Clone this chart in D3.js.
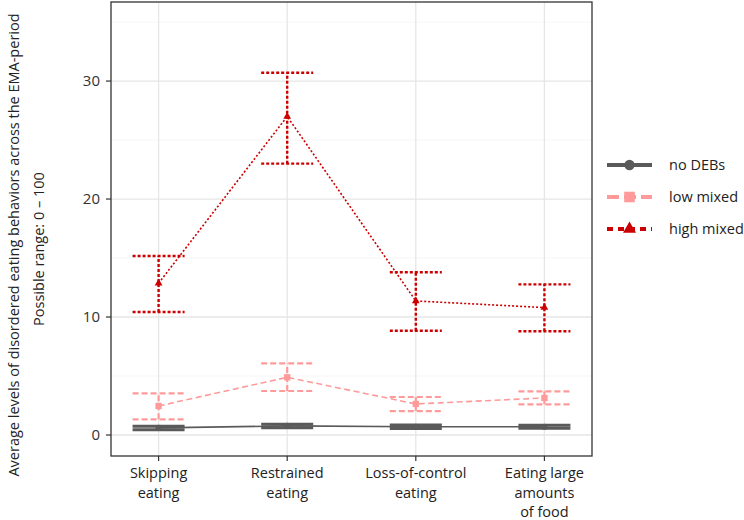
<!DOCTYPE html>
<html>
<head>
<meta charset="utf-8">
<script src="https://cdn.jsdelivr.net/npm/d3@7"></script>
<style>
  body { margin: 0; background: #fff; }
  text { font-family: "Open Sans", sans-serif; }
</style>
</head>
<body>
<svg width="744" height="520"></svg>
<script>
var categories = ["Skipping eating", "Restrained eating", "Loss-of-control eating", "Eating large amounts of food"];
var categoryLines = [["Skipping", "eating"], ["Restrained", "eating"], ["Loss-of-control", "eating"], ["Eating large", "amounts", "of food"]];
var groups = ["no DEBs", "low mixed", "high mixed"];

var noDebsMean = [0.6, 0.77, 0.7, 0.7];
var noDebsLow = [0.45, 0.62, 0.56, 0.58];
var noDebsHigh = [0.75, 0.92, 0.84, 0.82];

var lowMixedMean = [2.46, 4.89, 2.63, 3.14];
var lowMixedLow = [1.33, 3.73, 2.03, 2.6];
var lowMixedHigh = [3.53, 6.07, 3.22, 3.7];

var highMixedMean = [12.86, 27.0, 11.36, 10.8];
var highMixedLow = [10.42, 23.0, 8.84, 8.79];
var highMixedHigh = [15.17, 30.7, 13.8, 12.77];

var yTicks = [0, 10, 20, 30];
var yMinor = [5, 15, 25, 35];

var svg = d3.select("svg");
var panelLeft = 111, panelRight = 592, panelTop = 2, panelBottom = 456;

var x = d3.scalePoint()
    .domain(categories)
    .range([panelLeft, panelRight])
    .padding(0.37);

var y = d3.scaleLinear()
    .domain([-1.78, 36.7])
    .range([panelBottom, panelTop]);

var series = [
  {name: groups[0], mean: noDebsMean, lo: noDebsLow, hi: noDebsHigh, color: "#5a5a5a", dash: null, barDash: null, bar: 3, line: 1.6, shape: d3.symbolCircle, size: 30},
  {name: groups[1], mean: lowMixedMean, lo: lowMixedLow, hi: lowMixedHigh, color: "#ff9a9a", dash: "6,3.5", barDash: "6,3", bar: 2.2, line: 1.6, shape: d3.symbolSquare, size: 40},
  {name: groups[2], mean: highMixedMean, lo: highMixedLow, hi: highMixedHigh, color: "#cc0000", dash: "2,2", barDash: "3,2", bar: 2.4, line: 1.6, shape: d3.symbolTriangle, size: 26}
];

// grid
var g = svg.append("g");
g.selectAll(".minor").data(yMinor).enter().append("line")
    .attr("x1", panelLeft).attr("x2", panelRight)
    .attr("y1", d => y(d)).attr("y2", d => y(d))
    .attr("stroke", "#f2f2f2").attr("stroke-width", 0.8);
g.selectAll(".major").data(yTicks).enter().append("line")
    .attr("x1", panelLeft).attr("x2", panelRight)
    .attr("y1", d => y(d)).attr("y2", d => y(d))
    .attr("stroke", "#e6e6e6").attr("stroke-width", 1.3);
g.selectAll(".vgrid").data(categories).enter().append("line")
    .attr("x1", d => x(d)).attr("x2", d => x(d))
    .attr("y1", panelTop).attr("y2", panelBottom)
    .attr("stroke", "#e6e6e6").attr("stroke-width", 1.3);

var halfW = 26;

series.forEach(function(s) {
  var pts = categories.map((c, i) => ({c: c, m: s.mean[i], lo: s.lo[i], hi: s.hi[i]}));
  var sg = svg.append("g");

  sg.append("path")
      .datum(pts)
      .attr("fill", "none")
      .attr("stroke", s.color)
      .attr("stroke-width", s.line)
      .attr("stroke-dasharray", s.dash)
      .attr("d", d3.line().x(d => x(d.c)).y(d => y(d.m)));

  var eb = sg.selectAll(".eb").data(pts).enter().append("g")
      .attr("stroke", s.color)
      .attr("stroke-width", s.bar)
      .attr("stroke-dasharray", s.barDash);
  eb.append("line")
      .attr("x1", d => x(d.c)).attr("x2", d => x(d.c))
      .attr("y1", d => y(d.lo)).attr("y2", d => y(d.hi));
  eb.append("line")
      .attr("x1", d => x(d.c) - halfW).attr("x2", d => x(d.c) + halfW)
      .attr("y1", d => y(d.lo)).attr("y2", d => y(d.lo));
  eb.append("line")
      .attr("x1", d => x(d.c) - halfW).attr("x2", d => x(d.c) + halfW)
      .attr("y1", d => y(d.hi)).attr("y2", d => y(d.hi));

  sg.selectAll(".pt").data(pts).enter().append("path")
      .attr("transform", d => "translate(" + x(d.c) + "," + y(d.m) + ")")
      .attr("d", d3.symbol().type(s.shape).size(s.size))
      .attr("fill", s.color);
});

// panel border
svg.append("rect")
    .attr("x", panelLeft).attr("y", panelTop)
    .attr("width", panelRight - panelLeft).attr("height", panelBottom - panelTop)
    .attr("fill", "none")
    .attr("stroke", "#333").attr("stroke-width", 1.3);

// y axis
var ya = svg.append("g");
ya.selectAll("line").data(yTicks).enter().append("line")
    .attr("x1", panelLeft - 5).attr("x2", panelLeft)
    .attr("y1", d => y(d)).attr("y2", d => y(d))
    .attr("stroke", "#333").attr("stroke-width", 1.2);
ya.selectAll("text").data(yTicks).enter().append("text")
    .attr("x", panelLeft - 11).attr("y", d => y(d))
    .attr("dy", "0.35em")
    .attr("text-anchor", "end")
    .attr("font-size", 15)
    .attr("fill", "#333")
    .text(d => d);

// x axis
var xa = svg.append("g");
xa.selectAll("line").data(categories).enter().append("line")
    .attr("x1", d => x(d)).attr("x2", d => x(d))
    .attr("y1", panelBottom).attr("y2", panelBottom + 5)
    .attr("stroke", "#333").attr("stroke-width", 1.2);
categories.forEach(function(c, i) {
  var t = xa.append("text")
      .attr("x", x(c)).attr("y", 478)
      .attr("text-anchor", "middle")
      .attr("font-size", 14.5)
      .attr("fill", "#222");
  categoryLines[i].forEach(function(l, j) {
    t.append("tspan").attr("x", x(c)).attr("dy", j ? 19.5 : 0).text(l);
  });
});

// y titles
svg.append("text")
    .attr("transform", "translate(19,245) rotate(-90)")
    .attr("text-anchor", "middle")
    .attr("font-size", 14.5)
    .attr("fill", "#222")
    .text("Average levels of disordered eating behaviors across the EMA-period");
svg.append("text")
    .attr("transform", "translate(44,249) rotate(-90)")
    .attr("text-anchor", "middle")
    .attr("font-size", 14.5)
    .attr("fill", "#222")
    .text("Possible range: 0 \u2013 100");

// legend
var legY = [165, 197, 229];
var lg = svg.append("g");
series.forEach(function(s, i) {
  var row = lg.append("g").attr("transform", "translate(0," + legY[i] + ")");
  row.append("line")
      .attr("x1", 607).attr("x2", 652)
      .attr("stroke", s.color).attr("stroke-width", 4)
      .attr("stroke-dasharray", i === 1 ? "12,5" : i === 2 ? "6,5" : null);
  row.append("path")
      .attr("transform", "translate(629.5,0)")
      .attr("d", d3.symbol().type(s.shape).size(s.size * 2.8))
      .attr("fill", s.color);
  row.append("text")
      .attr("x", 669).attr("dy", "0.35em")
      .attr("font-size", 14.5)
      .attr("fill", "#222")
      .text(s.name);
});
</script>
</body>
</html>
